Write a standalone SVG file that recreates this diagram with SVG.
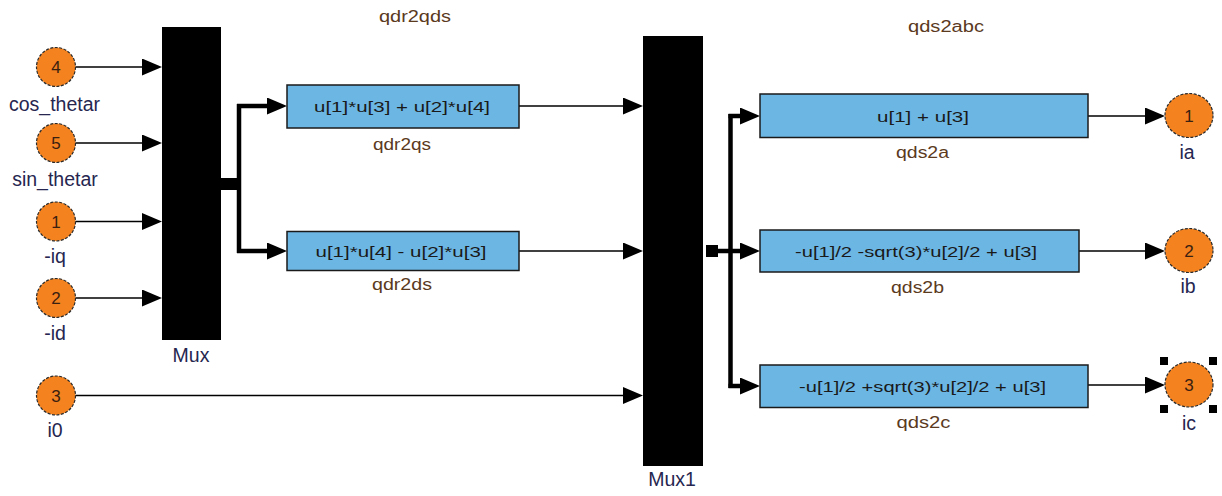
<svg xmlns="http://www.w3.org/2000/svg" width="1222" height="496" viewBox="0 0 1222 496">
<defs>
<marker id="ah" markerUnits="userSpaceOnUse" markerWidth="20" markerHeight="17" viewBox="0 0 20 17" refX="0" refY="8.5" orient="auto"><path d="M0,0 L20,8.5 L0,17 z" fill="#000"/></marker>
<style>
.port{fill:#f4821f;stroke:#2a2a2a;stroke-width:1.2;stroke-dasharray:3 1.5}
.num{font-family:"Liberation Sans",Arial,sans-serif;font-size:17px;fill:#3a2010;text-anchor:middle}
.plbl{font-family:"Liberation Sans",Arial,sans-serif;font-size:19.5px;fill:#262650;text-anchor:middle}
.blbl{font-family:"Liberation Sans",Arial,sans-serif;font-size:16px;fill:#5b3a1e;text-anchor:middle}
.box{fill:#6cb6e4;stroke:#1a1a1a;stroke-width:1.5}
.btxt{font-family:"Liberation Sans",Arial,sans-serif;font-size:15px;fill:#1a1a1a;text-anchor:middle}
.mux{fill:#000}
.thin{fill:none;stroke:#000;stroke-width:1.5;marker-end:url(#ah)}
.thick{fill:none;stroke:#000;stroke-width:4.5}
.thickA{fill:none;stroke:#000;stroke-width:4.5;marker-end:url(#ah)}
.sel{fill:#000}
</style>
</defs>
<rect width="1222" height="496" fill="#fff"/>

<text class="blbl" x="415" y="22" textLength="72" lengthAdjust="spacingAndGlyphs">qdr2qds</text>
<text class="blbl" x="946" y="32" textLength="76" lengthAdjust="spacingAndGlyphs">qds2abc</text>

<g id="connectors">
<path class="thin" d="M75.5,67 H142"/>
<path class="thin" d="M75.5,143 H142"/>
<path class="thin" d="M75.5,221.5 H142"/>
<path class="thin" d="M75.5,298 H142"/>
<path class="thin" d="M75.5,395.5 H623"/>
<rect x="221" y="178" width="18" height="12" fill="#000"/>
<path class="thick" d="M239,104 V253"/>
<path class="thickA" d="M237,106 H267"/>
<path class="thickA" d="M237,251 H267"/>
<path class="thin" d="M519,106 H623"/>
<path class="thin" d="M519,251 H623"/>
<rect x="706" y="245" width="12" height="12" fill="#000"/>
<path class="thick" d="M730.5,114 V388"/>
<path class="thickA" d="M716,251 H740"/>
<path class="thickA" d="M728.5,116 H740"/>
<path class="thickA" d="M728.5,386 H740"/>
<path class="thin" d="M1088,116 H1145"/>
<path class="thin" d="M1079,251 H1145"/>
<path class="thin" d="M1088,385 H1145"/>
</g>

<g id="in4"><circle class="port" cx="56" cy="67" r="19.5"/><text class="num" x="56" y="73">4</text><text class="plbl" x="54.5" y="111">cos_thetar</text></g>
<g id="in5"><circle class="port" cx="56" cy="143" r="19.5"/><text class="num" x="56" y="149">5</text><text class="plbl" x="55" y="186">sin_thetar</text></g>
<g id="in1"><circle class="port" cx="56" cy="221.5" r="19.5"/><text class="num" x="56" y="227.5">1</text><text class="plbl" x="55" y="263">-iq</text></g>
<g id="in2"><circle class="port" cx="56" cy="298" r="19.5"/><text class="num" x="56" y="304">2</text><text class="plbl" x="55" y="340">-id</text></g>
<g id="in3"><circle class="port" cx="56" cy="395.5" r="19.5"/><text class="num" x="56" y="401.5">3</text><text class="plbl" x="55" y="437">i0</text></g>

<g id="mux"><rect class="mux" x="162" y="27" width="59" height="313"/><text class="plbl" x="191" y="362">Mux</text></g>

<g id="qdr2qs"><rect class="box" x="287" y="85" width="232" height="43"/><text class="btxt" x="402" y="111.5" textLength="176" lengthAdjust="spacingAndGlyphs">u[1]*u[3] + u[2]*u[4]</text><text class="blbl" x="402" y="150" textLength="58" lengthAdjust="spacingAndGlyphs">qdr2qs</text></g>
<g id="qdr2ds"><rect class="box" x="287" y="231.5" width="232" height="39"/><text class="btxt" x="401" y="256.5" textLength="171" lengthAdjust="spacingAndGlyphs">u[1]*u[4] - u[2]*u[3]</text><text class="blbl" x="402" y="290" textLength="60" lengthAdjust="spacingAndGlyphs">qdr2ds</text></g>

<g id="mux1"><rect class="mux" x="643" y="36" width="60" height="430"/><text class="plbl" x="672" y="486">Mux1</text></g>

<g id="qds2a"><rect class="box" x="760" y="94" width="328" height="43.5"/><text class="btxt" x="923" y="121.5" textLength="92" lengthAdjust="spacingAndGlyphs">u[1] + u[3]</text><text class="blbl" x="922.5" y="158" textLength="53" lengthAdjust="spacingAndGlyphs">qds2a</text></g>
<g id="qds2b"><rect class="box" x="760" y="230" width="319" height="42"/><text class="btxt" x="916" y="256.5" textLength="242" lengthAdjust="spacingAndGlyphs">-u[1]/2 -sqrt(3)*u[2]/2 + u[3]</text><text class="blbl" x="917.5" y="293" textLength="53" lengthAdjust="spacingAndGlyphs">qds2b</text></g>
<g id="qds2c"><rect class="box" x="760" y="365" width="328" height="42.5"/><text class="btxt" x="922.5" y="391.5" textLength="247" lengthAdjust="spacingAndGlyphs">-u[1]/2 +sqrt(3)*u[2]/2 + u[3]</text><text class="blbl" x="923.5" y="428" textLength="54" lengthAdjust="spacingAndGlyphs">qds2c</text></g>

<g id="out1"><ellipse class="port" cx="1189" cy="115.5" rx="24" ry="22"/><text class="num" x="1189" y="121.5">1</text><text class="plbl" x="1187" y="159">ia</text></g>
<g id="out2"><ellipse class="port" cx="1189" cy="250.5" rx="24" ry="22"/><text class="num" x="1189" y="256.5">2</text><text class="plbl" x="1188" y="293">ib</text></g>
<g id="out3"><ellipse class="port" cx="1189" cy="384.5" rx="24" ry="22.5"/><text class="num" x="1189" y="390.5">3</text><text class="plbl" x="1189" y="430">ic</text>
<rect class="sel" x="1160" y="357" width="8" height="8"/><rect class="sel" x="1209" y="357" width="8" height="8"/><rect class="sel" x="1160" y="405" width="8" height="8"/><rect class="sel" x="1209" y="405" width="8" height="8"/></g>
</svg>
